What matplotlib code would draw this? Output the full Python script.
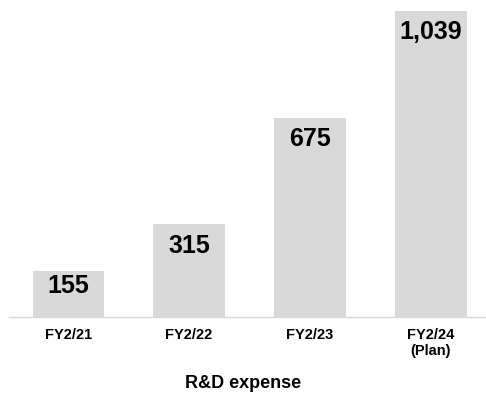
from matplotlib import pyplot as plt

categories = ["FY2/21", "FY2/22", "FY2/23", "FY2/24\n(Plan)"]
values = [155, 315, 675, 1039]
value_labels = ["155", "315", "675", "1,039"]

plt.rcParams['font.family'] = ['Liberation Sans', 'DejaVu Sans']

fig = plt.figure(figsize=(4.86, 3.93), dpi=100)
ax = fig.add_axes([9 / 486, 1 - 317 / 393, 1 - 9 / 486, 317 / 393])

x = range(len(values))
bars = ax.bar(x, values, width=0.59, color="#d9d9d9")
ax.set_xlim(-0.49, 3.456)
ax.set_ylim(0, 1075)

# label offsets (px below bar top) - the short first bar sits higher
offsets = [-15, -22, -21, -21]
for b, lab, off in zip(bars, value_labels, offsets):
    ax.annotate(lab, (b.get_x() + b.get_width() / 2, b.get_height()),
                xytext=(0, off * 0.72), textcoords="offset points",
                ha="center", va="center", fontsize=18, fontweight="bold")

for s in ["top", "right", "left"]:
    ax.spines[s].set_visible(False)
ax.spines["bottom"].set_color("#d9d9d9")
ax.spines["bottom"].set_linewidth(1)
ax.set_yticks([])
ax.set_xticks(list(x))
ax.set_xticklabels(categories, fontsize=10.5, fontweight="bold", linespacing=1.15)
ax.tick_params(axis="x", length=0, pad=8)

fig.text(0.5, 1 - 388 / 393, "R&D expense", ha="center", va="baseline",
         fontsize=13, fontweight="bold")

fig.savefig("out.png", dpi=100)
